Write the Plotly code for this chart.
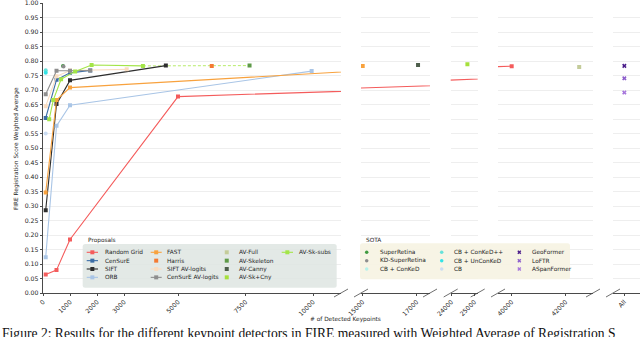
import plotly.graph_objects as go

W, H = 640, 337
FONT = "DejaVu Sans"

# ---------------- data ----------------
RANDOM_GRID_X = [100, 500, 1000, 5000, 40000]
RANDOM_GRID_Y = [0.064, 0.079, 0.185, 0.678, 0.783]
CENSURE_X = [100, 500, 1000, 1750]
CENSURE_Y = [0.604, 0.736, 0.760, 0.768]
SIFT_X = [100, 500, 1000, 4550]
SIFT_Y = [0.286, 0.652, 0.734, 0.785]
ORB_X = [100, 500, 1000, 9950]
ORB_Y = [0.123, 0.577, 0.648, 0.766]
FAST_X = [100, 500, 1000, 15000]
FAST_Y = [0.347, 0.666, 0.709, 0.784]
HARRIS_X = [6250]
HARRIS_Y = [0.784]
SIFT_AVL_X = [100, 500, 1000, 3100]
SIFT_AVL_Y = [0.645, 0.748, 0.768, 0.772]
CENSURE_AVL_X = [100, 500, 1000, 1750]
CENSURE_AVL_Y = [0.686, 0.767, 0.767, 0.768]
AV_FULL_X = [42500]
AV_FULL_Y = [0.780]
AV_SKELETON_X = [7650]
AV_SKELETON_Y = [0.785]
AV_CANNY_X = [17050]
AV_CANNY_Y = [0.787]
AV_SKCNY_X = [24700]
AV_SKCNY_Y = [0.790]
AV_SKSUBS_X = [230, 380, 670, 1190, 1800, 3700]
AV_SKSUBS_Y = [0.600, 0.666, 0.738, 0.765, 0.787, 0.784]

SUPERRETINA_X = [740]
SUPERRETINA_Y = [0.784]
KD_SUPERRETINA_X = [760]
KD_SUPERRETINA_Y = [0.782]
CB_CONKED_X = [100]
CB_CONKED_Y = [0.764]
CB_CONKEDPP_X = [100]
CB_CONKEDPP_Y = [0.769]
CB_UNCONKED_X = [100]
CB_UNCONKED_Y = [0.760]
CB_X = [100]
CB_Y = [0.551]
GEOFORMER_X = ["All"]
GEOFORMER_Y = [0.784]
LOFTR_X = ["All"]
LOFTR_Y = [0.741]
ASPAN_X = ["All"]
ASPAN_Y = [0.692]

# tick labels per panel
Y_TICKS = [round(0.05 * i, 2) for i in range(21)]
TICKS_1 = [0, 1000, 2000, 3000, 5000, 7500, 10000]
TICKS_2 = [15000, 17000]
TICKS_3 = [24000, 25000]
TICKS_4 = [40000, 42000]
TICKS_5 = ["All"]

X_TITLE = "# of Detected Keypoints"
Y_TITLE = "FIRE Registration Score Weighted Average"
CAPTION = ("Figure 2: Results for the different keypoint detectors in FIRE "
           "measured with Weighted Average of Registration S")

# ---------------- layout geometry (pixels) ----------------
PANELS_PX = [(42.7, 341), (361, 430), (450.7, 477.7), (498, 593), (613, 640)]
RANGES = [[-11, 11037], [14937, 17493], [23970, 25150], [39493, 43011], [-0.42, 0.58]]
Y_TOP, Y_BOT = 3.3, 293.0

fig = go.Figure()

def ax(i):
    return ("x" if i == 1 else f"x{i}"), ("y" if i == 1 else f"y{i}")

proposals = [
    ("Random Grid", RANDOM_GRID_X, RANDOM_GRID_Y, "#f45c5c", "square", True),
    ("CenSurE", CENSURE_X, CENSURE_Y, "#3c6ea6", "square", True),
    ("SIFT", SIFT_X, SIFT_Y, "#2e2e2e", "square", True),
    ("ORB", ORB_X, ORB_Y, "#a9c5e6", "square", True),
    ("FAST", FAST_X, FAST_Y, "#f8a23e", "square", True),
    ("Harris", HARRIS_X, HARRIS_Y, "#f47a32", "square", False),
    ("SIFT AV-logits", SIFT_AVL_X, SIFT_AVL_Y, "#f9dcc0", "square", True),
    ("CenSurE AV-logits", CENSURE_AVL_X, CENSURE_AVL_Y, "#8e8e8e", "square", True),
    ("AV-Full", AV_FULL_X, AV_FULL_Y, "#c4cc9a", "square", False),
    ("AV-Skeleton", AV_SKELETON_X, AV_SKELETON_Y, "#5e9a48", "square", False),
    ("AV-Canny", AV_CANNY_X, AV_CANNY_Y, "#4e5e4c", "square", False),
    ("AV-Sk+Cny", AV_SKCNY_X, AV_SKCNY_Y, "#a6e03c", "square", False),
    ("AV-Sk-subs", AV_SKSUBS_X, AV_SKSUBS_Y, "#a3e548", "square", True),
]
sota = [
    ("SuperRetina", SUPERRETINA_X, SUPERRETINA_Y, "#3f9a3f", "circle"),
    ("KD-SuperRetina", KD_SUPERRETINA_X, KD_SUPERRETINA_Y, "#8e8e8e", "circle"),
    ("CB + ConKeD", CB_CONKED_X, CB_CONKED_Y, "#b5f2ea", "circle"),
    ("CB + ConKeD++", CB_CONKEDPP_X, CB_CONKEDPP_Y, "#66e2da", "circle"),
    ("CB + UnConKeD", CB_UNCONKED_X, CB_UNCONKED_Y, "#33e3e6", "circle"),
    ("CB", CB_X, CB_Y, "#cadcf2", "circle"),
    ("GeoFormer", GEOFORMER_X, GEOFORMER_Y, "#4a1c8a", "x"),
    ("LoFTR", LOFTR_X, LOFTR_Y, "#8d5fcc", "x"),
    ("ASpanFormer", ASPAN_X, ASPAN_Y, "#a777dc", "x"),
]

for p in range(1, 5):
    xa, ya = ax(p)
    fig.add_trace(go.Scatter(
        x=[AV_SKSUBS_X[-1], AV_SKELETON_X[0]], y=[AV_SKSUBS_Y[-1], AV_SKELETON_Y[0]],
        mode="lines", line=dict(color="#b8ec6a", width=1, dash="3px,2px"),
        xaxis=xa, yaxis=ya, showlegend=False, hoverinfo="skip"))

for name, xs, ys, col, sym, has_line in proposals:
    for p in range(1, 5):
        xa, ya = ax(p)
        fig.add_trace(go.Scatter(
            x=xs, y=ys, name=name, mode="lines+markers" if has_line else "markers",
            line=dict(color=col, width=1.1),
            marker=dict(color=col, symbol=sym, size=4),
            xaxis=xa, yaxis=ya, showlegend=False))

for name, xs, ys, col, sym in sota:
    p = 5 if isinstance(xs[0], str) else 1
    xa, ya = ax(p)
    fig.add_trace(go.Scatter(
        x=xs, y=ys, name=name, mode="markers",
        marker=dict(color=col, symbol=sym, size=4, line=dict(width=0)),
        xaxis=xa, yaxis=ya, showlegend=False))

ydom = [1 - Y_BOT / H, 1 - Y_TOP / H]
tickfont = dict(family=FONT, size=6.2, color="#262626")
all_ticks = [TICKS_1, TICKS_2, TICKS_3, TICKS_4, TICKS_5]
for i, ((x0, x1), rng, tv) in enumerate(zip(PANELS_PX, RANGES, all_ticks), start=1):
    xkey = "xaxis" if i == 1 else f"xaxis{i}"
    ykey = "yaxis" if i == 1 else f"yaxis{i}"
    xa, ya = ax(i)
    fig.layout[xkey] = dict(
        domain=[x0 / W, x1 / W], range=rng, anchor=ya, automargin=False,
        type="category" if i == 5 else "linear", ticklabeloverflow="allow",
        tickmode="array", tickvals=tv, ticktext=[str(t) for t in tv],
        tickangle=-45, tickfont=tickfont, showgrid=False, zeroline=False,
        showline=True, linecolor="#4a4a4a", linewidth=1,
        ticks="outside", ticklen=2, tickcolor="#4a4a4a")
    fig.layout[ykey] = dict(
        domain=ydom, range=[0, 1.0], anchor=xa, automargin=False,
        ticklabeloverflow="allow",
        tickmode="array", tickvals=Y_TICKS, ticktext=[f"{v:.2f}" for v in Y_TICKS],
        showgrid=True, gridcolor="#eeeeee", gridwidth=1,
        zeroline=False, tickfont=tickfont,
        showticklabels=(i == 1), showline=(i == 1), linecolor="#4a4a4a", linewidth=1,
        ticks="outside" if i == 1 else "", ticklen=2, tickcolor="#4a4a4a")

fig.layout["xaxis6"] = dict(domain=[0, 1], range=[0, W], visible=False, anchor="y6",
                            fixedrange=True, automargin=False)
fig.layout["yaxis6"] = dict(domain=[0, 1], range=[H, 0], visible=False, anchor="x6",
                            fixedrange=True, automargin=False)

def rrect(x0, y0, x1, y1, r=2.5):
    return (f"M{x0+r},{y0} L{x1-r},{y0} Q{x1},{y0} {x1},{y0+r} L{x1},{y1-r} "
            f"Q{x1},{y1} {x1-r},{y1} L{x0+r},{y1} Q{x0},{y1} {x0},{y1-r} "
            f"L{x0},{y0+r} Q{x0},{y0} {x0+r},{y0} Z")

shapes = []
annotations = []
legfont = dict(family=FONT, size=5.8, color="#262626")

shapes.append(dict(type="path", xref="x6", yref="y6", layer="below",
                   path=rrect(82.7, 244, 336.7, 287.7),
                   fillcolor="rgba(222,229,226,0.85)", line=dict(width=0)))
annotations.append(dict(x=86, y=240, xref="x6", yref="y6", text="Proposals",
                        showarrow=False, xanchor="left", yanchor="middle", font=legfont))
shapes.append(dict(type="path", xref="x6", yref="y6", layer="below",
                   path=rrect(360, 243.3, 570, 279.3),
                   fillcolor="rgba(246,243,226,0.9)", line=dict(width=0)))
annotations.append(dict(x=364, y=240, xref="x6", yref="y6", text="SOTA",
                        showarrow=False, xanchor="left", yanchor="middle", font=legfont))

rows = [252.3, 260.65, 269.0, 277.35]
prop_cols = [(86.7, 98.0, 103.3), (150.7, 161.7, 165.0), (221.5, 232.0, 236.7),
             (281.7, 293.0, 296.7)]
prop_layout = [[0, 1, 2, 3], [4, 5, 6, 7], [8, 9, 10, 11], [12]]
for c, idxs in enumerate(prop_layout):
    lx0, lx1, tx = prop_cols[c]
    for r, k in enumerate(idxs):
        name, _, _, col, sym, has_line = proposals[k]
        yy = rows[r]
        if has_line:
            fig.add_trace(go.Scatter(x=[lx0, lx1], y=[yy, yy], mode="lines",
                                     line=dict(color=col, width=1.1), xaxis="x6", yaxis="y6",
                                     showlegend=False, hoverinfo="skip"))
        fig.add_trace(go.Scatter(x=[(lx0 + lx1) / 2], y=[yy], mode="markers",
                                 marker=dict(color=col, symbol=sym, size=4),
                                 xaxis="x6", yaxis="y6", showlegend=False, hoverinfo="skip"))
        annotations.append(dict(x=tx, y=yy, xref="x6", yref="y6", text=name,
                                showarrow=False, xanchor="left", yanchor="middle",
                                font=legfont))

sota_cols = [(366.7, 378.0), (441.7, 451.7), (519.3, 530.0)]
for c in range(3):
    mx, tx = sota_cols[c]
    for r in range(3):
        name, _, _, col, sym = sota[c * 3 + r]
        yy = rows[r]
        fig.add_trace(go.Scatter(x=[mx], y=[yy], mode="markers",
                                 marker=dict(color=col, symbol=sym, size=3.5,
                                             line=dict(width=0)),
                                 xaxis="x6", yaxis="y6", showlegend=False, hoverinfo="skip"))
        annotations.append(dict(x=tx, y=yy, xref="x6", yref="y6", text=name,
                                showarrow=False, xanchor="left", yanchor="middle",
                                font=legfont))

edges = []
for i, (x0, x1) in enumerate(PANELS_PX):
    if i > 0:
        edges.append(x0)
    if i < len(PANELS_PX) - 1:
        edges.append(x1)
for e in edges:
    shapes.append(dict(type="line", xref="x6", yref="y6", x0=e - 7, y0=Y_BOT + 4,
                       x1=e + 7, y1=Y_BOT - 4, line=dict(color="#4a4a4a", width=0.8),
                       layer="above"))

annotations.append(dict(x=345, y=319, xref="x6", yref="y6", text=X_TITLE, showarrow=False,
                        font=dict(family=FONT, size=5.8, color="#262626")))
annotations.append(dict(x=16.5, y=148.5, xref="x6", yref="y6", text=Y_TITLE, showarrow=False,
                        textangle=-90, font=dict(family=FONT, size=5.8, color="#262626")))
annotations.append(dict(x=0, y=324, xref="x6", yref="y6", text=CAPTION, showarrow=False,
                        xanchor="left", yanchor="top",
                        font=dict(family="Liberation Serif", size=13.6, color="#111111")))

fig.update_layout(template="none", width=W, height=H, margin=dict(l=0, r=0, t=0, b=0),
                  paper_bgcolor="white", plot_bgcolor="rgba(0,0,0,0)",
                  shapes=shapes, annotations=annotations, showlegend=False)

fig.write_html("out.html", config={"displayModeBar": False, "staticPlot": True},
               post_script="document.body.style.margin='0';"
                           "document.body.style.overflow='hidden';")
